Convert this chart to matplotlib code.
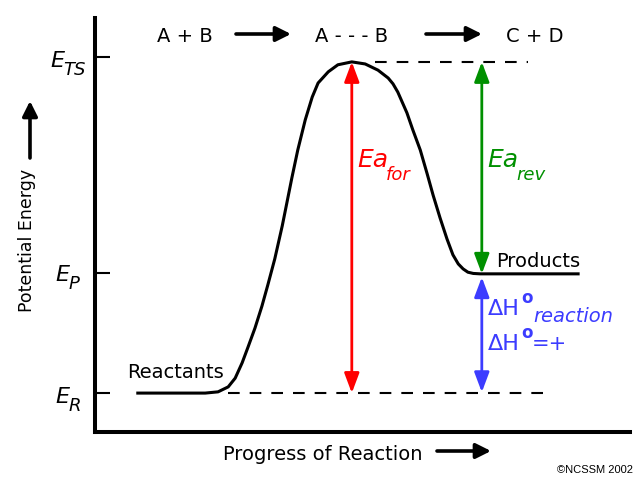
"""Potential energy diagram for an endothermic reaction A + B -> C + D.

Axes run 0..100 in both directions (reaction progress, potential energy);
the curve was read off the reference drawing point by point.
"""

import matplotlib
matplotlib.use("Agg")
import matplotlib.pyplot as plt

# --- Data ------------------------------------------------------------------------
PROGRESS = [8.0, 20.6, 23.0, 24.9, 26.2, 27.5, 28.6, 29.9, 31.2, 32.3, 33.6, 35.0,
            35.7, 36.8, 37.9, 39.3, 40.6, 41.7, 43.6, 45.4, 48.0, 50.5, 52.9, 54.8,
            55.7, 56.6, 58.3, 59.4, 60.8, 62.1, 63.2, 64.5, 65.8, 66.9, 67.9, 68.8,
            69.7, 70.7, 72.0, 90.3]
ENERGY = [9.4, 9.4, 9.7, 10.9, 13.0, 16.7, 20.5, 25.1, 30.4, 35.5, 41.8, 49.8,
          54.3, 61.4, 68.1, 75.4, 80.9, 84.3, 87.0, 88.7, 89.4, 88.9, 87.4, 85.5,
          84.1, 82.1, 77.1, 73.0, 68.1, 62.3, 57.2, 51.7, 46.6, 42.8, 40.6, 39.4,
          38.6, 38.3, 38.2, 38.2]

E_R, E_P, E_TS = 9.4, 38.2, 89.4          # reactant / product / transition-state levels
LEVEL_TICKS = [9.4, 38.4, 90.6]            # where the axis ticks sit
LEVEL_SUBS = ["R", "P", "TS"]
X_TS = 48.0                                # progress at the transition state
X_REV = 72.3                               # progress where Ea_rev / dH are measured
DASH_TOP = [52.3, 80.9]                    # dashed guide at E_TS
DASH_BOTTOM = [24.9, 84.1]                 # dashed guide at E_R
STAGES = ["A + B", "A - - - B", "C + D"]

RED, GREEN, BLUE = "#ff0000", "#009000", "#3c3cff"
W, H = 640, 480


def fp(x, y):
    """reference pixel (origin top-left) -> figure fraction"""
    return x / W, 1 - y / H


fig = plt.figure(figsize=(6.4, 4.8), dpi=100)
ax = fig.add_axes([95 / W, 1 - 432 / H, (630 - 95) / W, (432 - 18) / H])
ax.set_xlim(0, 100); ax.set_ylim(0, 100)
for s in ("top", "right"):
    ax.spines[s].set_visible(False)
for s in ("left", "bottom"):
    ax.spines[s].set_linewidth(2.9)
ax.set_xticks([])
ax.set_yticks(LEVEL_TICKS, [""] * 3)
ax.tick_params(axis="y", direction="in", length=11, width=1.5)

# energy profile + guides
ax.plot(PROGRESS, ENERGY, color="black", lw=2.2, solid_joinstyle="round")
ax.plot(DASH_TOP, [E_TS, E_TS], color="black", lw=1.5, ls=(0, (5.6, 4.8)))
ax.plot(DASH_BOTTOM, [E_R, E_R], color="black", lw=1.5, ls=(0, (5.6, 4.8)))


def darrow(x, y0, y1, color):
    ax.annotate("", xy=(x, y1), xytext=(x, y0),
                arrowprops=dict(arrowstyle="<|-|>,head_length=1.2,head_width=0.45",
                                color=color, lw=2, shrinkA=0, shrinkB=0, mutation_scale=10))


darrow(X_TS, E_R, E_TS, RED)
darrow(X_REV, E_P, E_TS, GREEN)
darrow(X_REV, E_R + 0.2, E_P - 0.8, BLUE)


def farrow(p0, p1):
    """black arrow in figure (reference pixel) space"""
    ax.annotate("", xy=fp(*p1), xytext=fp(*p0), xycoords="figure fraction",
                textcoords="figure fraction", annotation_clip=False,
                arrowprops=dict(arrowstyle="-|>,head_length=0.9,head_width=0.45",
                                color="black", lw=2.6, shrinkA=0, shrinkB=0,
                                mutation_scale=10))


def ftext(x, y, s, **kw):
    kw.setdefault("va", "baseline")
    kw.setdefault("ha", "left")
    fig.text(*fp(x, y), s, **kw)


# stage labels along the top
for xc, s in zip([185, 352, 535], STAGES):
    ftext(xc, 42, s, ha="center", fontsize=14)
farrow((236, 34), (291, 34))
farrow((426, 34), (482, 34))

# axis titles
ftext(223, 460, "Progress of Reaction", fontsize=14)
farrow((437, 451), (491, 451))
ftext(27, 240, "Potential Energy", fontsize=12.5, rotation=90, ha="center", va="center")
farrow((30, 158), (30, 101))

# level labels E_R, E_P, E_TS
for (xe, yb, dx), sub in zip([(55, 403, 14), (55, 281, 14), (50, 67, 13)], LEVEL_SUBS):
    ftext(xe, yb, "E", fontsize=16, style="italic")
    ftext(xe + dx, yb + 8, sub, fontsize=13, style="italic")

ftext(127, 378, "Reactants", fontsize=14)
ftext(496, 267, "Products", fontsize=14)

# activation energies
ftext(357, 167, "Ea", fontsize=18, style="italic", color=RED)
ftext(386, 180, "for", fontsize=13, style="italic", color=RED)
ftext(487, 167, "Ea", fontsize=18, style="italic", color=GREEN)
ftext(516, 180, "rev", fontsize=13, style="italic", color=GREEN)

# enthalpy change
for yb in (315, 350):
    ftext(488, yb, "\u0394H", fontsize=16, color=BLUE)
    ftext(521, yb - 12, "o", fontsize=12, fontweight="bold", color=BLUE)
ftext(533, 322, "reaction", fontsize=14, style="italic", color=BLUE)
ftext(532, 350, "=+", fontsize=15, color=BLUE)

ftext(557, 473, "\u00a9NCSSM 2002", fontsize=8, family="Liberation Sans")

fig.savefig("out.png", dpi=100)
